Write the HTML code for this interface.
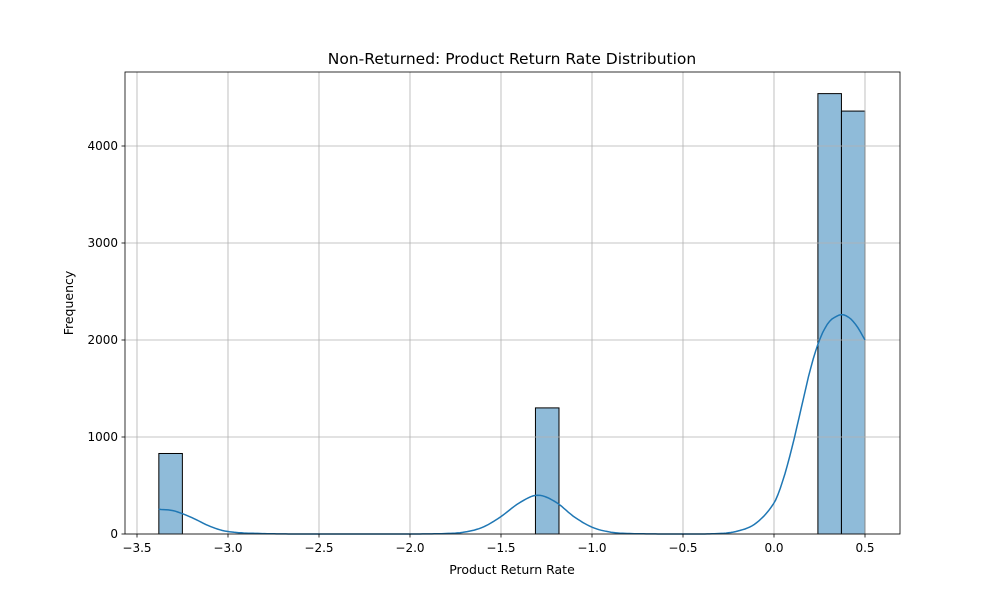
<!DOCTYPE html>
<html><head><meta charset="utf-8"><style>
body{margin:0;background:#fff;font-family:"DejaVu Sans","Liberation Sans",sans-serif}
</style></head><body>
<svg id="c" width="1000" height="600" xmlns="http://www.w3.org/2000/svg" font-family="DejaVu Sans, Liberation Sans, sans-serif"></svg>
<script>
const binStart = -3.38;
const binWidth = 0.12933;
const counts = [830,0,0,0,0,0,0,0,0,0,0,0,0,0,0,0,1300,0,0,0,0,0,0,0,0,0,0,0,4540,4360];
const kdeX = [-3.38,-3.3,-3.2,-3.1,-3.0,-2.8,-2.5,-2.0,-1.8,-1.7,-1.6,-1.5,-1.4,-1.3,-1.2,-1.1,-1.0,-0.9,-0.8,-0.5,-0.3,-0.2,-0.1,0.0,0.05,0.1,0.15,0.2,0.25,0.3,0.35,0.38,0.42,0.46,0.5];
const kdeY = [255,240,170,80,25,4,0,0,5,20,70,180,320,400,330,180,70,20,5,0,5,30,110,320,560,900,1300,1700,2000,2180,2250,2260,2220,2130,2000];
const xTicks = [-3.5,-3.0,-2.5,-2.0,-1.5,-1.0,-0.5,0.0,0.5];
const yTicks = [0,1000,2000,3000,4000];

const L=125,R=900,T=72,B=534;
const sx=v=>137+(v+3.5)*182;
const sy=v=>534-v*0.097;
const svg=document.getElementById('c');
const NS='http://www.w3.org/2000/svg';
function mk(tag,attrs,parent){const e=document.createElementNS(NS,tag);for(const k in attrs)e.setAttribute(k,attrs[k]);(parent||svg).appendChild(e);return e;}

// bars
counts.forEach((c,i)=>{if(c<=0)return;const x0=sx(binStart+i*binWidth),x1=sx(binStart+(i+1)*binWidth);
const r=mk('rect',{x:x0,y:sy(c),width:x1-x0,height:sy(0)-sy(c),fill:'rgba(31,119,180,0.5)',stroke:'#000','stroke-width':1});

});

// grid (on top of bars)
xTicks.forEach(t=>{const l=mk('line',{x1:sx(t),x2:sx(t),y1:T,y2:B,stroke:'#b0b0b0','stroke-width':0.8});

});
yTicks.forEach(t=>{const l=mk('line',{x1:L,x2:R,y1:sy(t),y2:sy(t),stroke:'#b0b0b0','stroke-width':0.8});

});

// kde (smoothed via monotone cubic interpolation between read points for drawing)
function interp(x){let i=0;while(i<kdeX.length-2&&x>kdeX[i+1])i++;
const x0=kdeX[i],x1=kdeX[i+1],y0=kdeY[i],y1=kdeY[i+1];
const m0=i>0?(kdeY[i+1]-kdeY[i-1])/(kdeX[i+1]-kdeX[i-1]):(y1-y0)/(x1-x0);
const m1=i<kdeX.length-2?(kdeY[i+2]-kdeY[i])/(kdeX[i+2]-kdeX[i]):(y1-y0)/(x1-x0);
const h=x1-x0,t=(x-x0)/h,t2=t*t,t3=t2*t;
return Math.max(0,(2*t3-3*t2+1)*y0+(t3-2*t2+t)*h*m0+(-2*t3+3*t2)*y1+(t3-t2)*h*m1);}
let d='';const xa=kdeX[0],xb=kdeX[kdeX.length-1];
for(let k=0;k<=300;k++){const x=xa+(xb-xa)*k/300;d+=(k?'L':'M')+sx(x).toFixed(1)+','+sy(interp(x)).toFixed(1);}
const p=mk('path',{d:d,fill:'none',stroke:'#1f77b4','stroke-width':1.5});



// frame
const f=mk('rect',{x:L,y:T,width:R-L,height:B-T,fill:'none',stroke:'#000','stroke-width':0.8});



xTicks.forEach(t=>{mk('line',{x1:sx(t),x2:sx(t),y1:B,y2:B+3.5,stroke:'#000','stroke-width':0.8});
const tx=mk('text',{x:sx(t),y:B+18,'text-anchor':'middle','font-size':12});tx.textContent=t.toFixed(1).replace('-','−');

});
yTicks.forEach(t=>{mk('line',{x1:L-3.5,x2:L,y1:sy(t),y2:sy(t),stroke:'#000','stroke-width':0.8});
const tx=mk('text',{x:L-7,y:sy(t)+4,'text-anchor':'end','font-size':12});tx.textContent=t;

});

const xt=mk('text',{x:512,y:574,'text-anchor':'middle','font-size':12.5});xt.textContent='Product Return Rate';


const yt=mk('text',{x:73,y:303,'text-anchor':'middle','font-size':12.5,transform:'rotate(-90 73 303)'});yt.textContent='Frequency';


const ti=mk('text',{x:512,y:64,'text-anchor':'middle','font-size':15.5});ti.textContent='Non-Returned: Product Return Rate Distribution';


</script>
</body></html>
